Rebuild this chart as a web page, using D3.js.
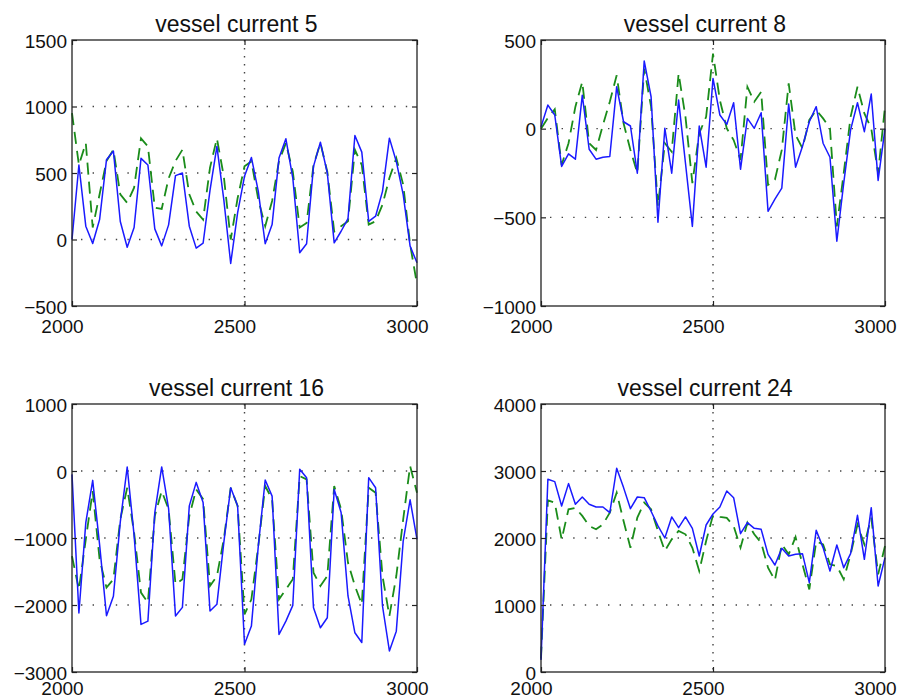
<!DOCTYPE html>
<html>
<head>
<meta charset="utf-8">
<script src="https://cdn.jsdelivr.net/npm/d3@7/dist/d3.min.js"></script>
<style>
  body { margin: 0; background: #fff; }
  svg text { font-family: "Liberation Sans", Arial, Helvetica, sans-serif; fill: #111; }
  .box { fill: none; stroke: #222; stroke-width: 1.3; }
  .hgrid line { stroke: #444; stroke-width: 1.4; stroke-dasharray: 1.4,10.2; }
  .vgrid line { stroke: #444; stroke-width: 1.4; stroke-dasharray: 1.4,6.6; }
  .axis path { display: none; }
  .axis line { stroke: #222; stroke-width: 1.2; }
  .blue { fill: none; stroke: #1a1aff; stroke-width: 1.5; stroke-linejoin: round; }
  .green { fill: none; stroke: #1a8c1a; stroke-width: 1.8; stroke-dasharray: 12,7; }
</style>
</head>
<body>
<div id="chart"></div>
<script>
// sample positions shared by every panel
var samples = [2000,2020,2040,2060,2080,2100,2120,2140,2160,2180,2200,2220,2240,2260,2280,2300,2320,2340,2360,2380,
  2400,2420,2440,2460,2480,2500,2520,2540,2560,2580,2600,2620,2640,2660,2680,2700,2720,2740,2760,2780,
  2800,2820,2840,2860,2880,2900,2920,2940,2960,2980,3000];

var xTicks = [2000, 2500, 3000];

// vessel current 5
var vc5Blue = [0,560,100,-30,150,600,665,135,-58,90,610,560,80,-48,110,480,500,100,-65,-28,370,700,300,-180,200,
  475,617,362,-32,112,612,757,462,-100,-32,550,732,500,-25,62,157,782,657,137,175,362,762,587,337,-50,-175];
var vc5Green = [950,560,725,90,340,590,675,340,275,390,760,700,240,230,460,590,675,340,210,150,540,760,475,0,310,
  550,587,300,100,290,590,725,510,90,125,560,725,510,60,100,137,675,560,112,137,262,462,612,412,-37,-337];
var vc5Ticks = [-500, 0, 500, 1000, 1500];

// vessel current 8
var vc8Blue = [10,133,77,-213,-142,-172,189,-116,-172,-161,-157,236,39,15,-251,382,180,-528,2,-251,161,-195,-551,15,-217,
  283,77,24,146,-229,58,2,90,-466,-397,-335,139,-217,-101,39,124,-82,-161,-635,-307,-7,146,-17,195,-292,0];
var vc8Green = [0,60,110,-205,-82,124,264,-82,-120,20,152,301,30,-120,-251,339,124,-438,-82,-130,311,67,-307,-26,67,
  423,161,2,-64,-176,236,152,208,-317,-288,-120,255,-36,-110,49,105,58,2,-551,-251,67,236,86,2,-251,124];
var vc8Ticks = [-1000, -500, 0, 500];

// vessel current 16
var vc16Blue = [-50,-2120,-770,-140,-1100,-2160,-1870,-760,60,-960,-2290,-2240,-620,60,-560,-2165,-2035,-520,-170,-470,
  -2090,-1990,-1070,-250,-520,-2585,-2315,-1120,-135,-375,-2440,-2240,-2005,25,-100,-2040,-2340,-2190,-275,-620,
  -1865,-2415,-2560,-100,-250,-2015,-2685,-2390,-1045,-430,-1020];
var vc16Green = [-1270,-1770,-1020,-300,-1320,-1740,-1617,-720,-250,-920,-1815,-1965,-670,-300,-570,-1690,-1617,-670,-275,-420,
  -1715,-1570,-1020,-250,-520,-2140,-1915,-1120,-225,-420,-1915,-1765,-1615,-75,-125,-1517,-1715,-1567,-225,-570,
  -1370,-1715,-1990,-250,-325,-1567,-2165,-1567,-720,75,-325];
var vc16Ticks = [-3000, -2000, -1000, 0, 1000];

// vessel current 24
var vc24Blue = [180,2877,2842,2478,2812,2503,2612,2503,2463,2463,2378,3041,2752,2438,2612,2602,2400,2180,2000,2314,
  2154,2314,2144,1731,2194,2358,2463,2702,2602,2065,2229,2144,2129,1756,1597,1846,1731,1756,1766,1333,
  2114,1856,1507,1895,1557,1766,2339,1682,2453,1283,1706];
var vc24Green = [200,2563,2528,1980,2428,2450,2330,2180,2130,2204,2378,2677,2254,1855,2304,2528,2428,2105,1806,1980,
  2105,2055,1855,1507,1955,2340,2314,2300,2179,1856,2229,2055,1930,1557,1368,1905,1756,2015,1607,1233,
  1950,1905,1607,1582,1383,1756,2200,1905,2304,1457,1880];
var vc24Ticks = [0, 1000, 2000, 3000, 4000];

// panel layout (pixels) kept apart from the data
var panels = [
  { title: "vessel current 5",  blue: vc5Blue,  green: vc5Green,  ticks: vc5Ticks,  left: 72,  top: 40,  w: 345, h: 266, xGap: 27 },
  { title: "vessel current 8",  blue: vc8Blue,  green: vc8Green,  ticks: vc8Ticks,  left: 541, top: 40,  w: 344, h: 266, xGap: 27 },
  { title: "vessel current 16", blue: vc16Blue, green: vc16Green, ticks: vc16Ticks, left: 72,  top: 404, w: 345, h: 268, xGap: 23 },
  { title: "vessel current 24", blue: vc24Blue, green: vc24Green, ticks: vc24Ticks, left: 541, top: 404, w: 344, h: 268, xGap: 23 }
];

var svg = d3.select("#chart").append("svg")
  .attr("width", 911)
  .attr("height", 697);

var fmt = function(d) { return d < 0 ? "\u2212" + Math.abs(d) : String(d); };

panels.forEach(function(p) {
  var g = svg.append("g").attr("transform", "translate(" + p.left + "," + p.top + ")");

  var x = d3.scaleLinear().domain([xTicks[0], xTicks[xTicks.length - 1]]).range([0, p.w]);
  var y = d3.scaleLinear().domain(d3.extent(p.ticks)).range([p.h, 0]);

  // dotted grid, only the inner lines
  g.append("g").attr("class", "hgrid")
    .selectAll("line")
    .data(p.ticks.slice(1, -1))
    .enter().append("line")
    .attr("x1", 0).attr("x2", p.w)
    .attr("y1", function(d) { return y(d); })
    .attr("y2", function(d) { return y(d); })
    .style("stroke-dashoffset", -9);

  g.append("g").attr("class", "vgrid")
    .selectAll("line")
    .data(xTicks.slice(1, -1))
    .enter().append("line")
    .attr("y1", 0).attr("y2", p.h)
    .attr("x1", function(d) { return x(d); })
    .attr("x2", function(d) { return x(d); });

  // the two series
  var line = d3.line()
    .x(function(d, i) { return x(samples[i]); })
    .y(function(d) { return y(d); });

  g.append("path").datum(p.green).attr("class", "green").attr("d", line);
  g.append("path").datum(p.blue).attr("class", "blue").attr("d", line);

  // y axis, ticks pointing inward
  var yAx = g.append("g").attr("class", "axis")
    .call(d3.axisLeft(y).tickValues(p.ticks).tickSize(-5).tickPadding(5).tickFormat(fmt));
  yAx.selectAll("text")
    .style("font-size", "19px")
    .attr("dy", null)
    .attr("x", -5)
    .attr("y", 7);

  g.append("g").attr("class", "axis")
    .attr("transform", "translate(" + p.w + ",0)")
    .call(d3.axisRight(y).tickValues(p.ticks).tickSize(-5).tickFormat(""));

  var xAx = g.append("g").attr("class", "axis")
    .attr("transform", "translate(0," + p.h + ")")
    .call(d3.axisBottom(x).tickValues(xTicks).tickSize(-5).tickFormat(d3.format("d")));
  xAx.selectAll("text")
    .style("font-size", "19px")
    .attr("dy", null)
    .attr("x", -10)
    .attr("y", p.xGap);

  g.append("g").attr("class", "axis")
    .call(d3.axisTop(x).tickValues(xTicks).tickSize(-5).tickFormat(""));

  g.append("rect").attr("class", "box")
    .attr("width", p.w).attr("height", p.h);

  g.append("text")
    .attr("x", p.w / 2 - 8)
    .attr("y", -8)
    .attr("text-anchor", "middle")
    .style("font-size", "23px")
    .text(p.title);
});
</script>
</body>
</html>
